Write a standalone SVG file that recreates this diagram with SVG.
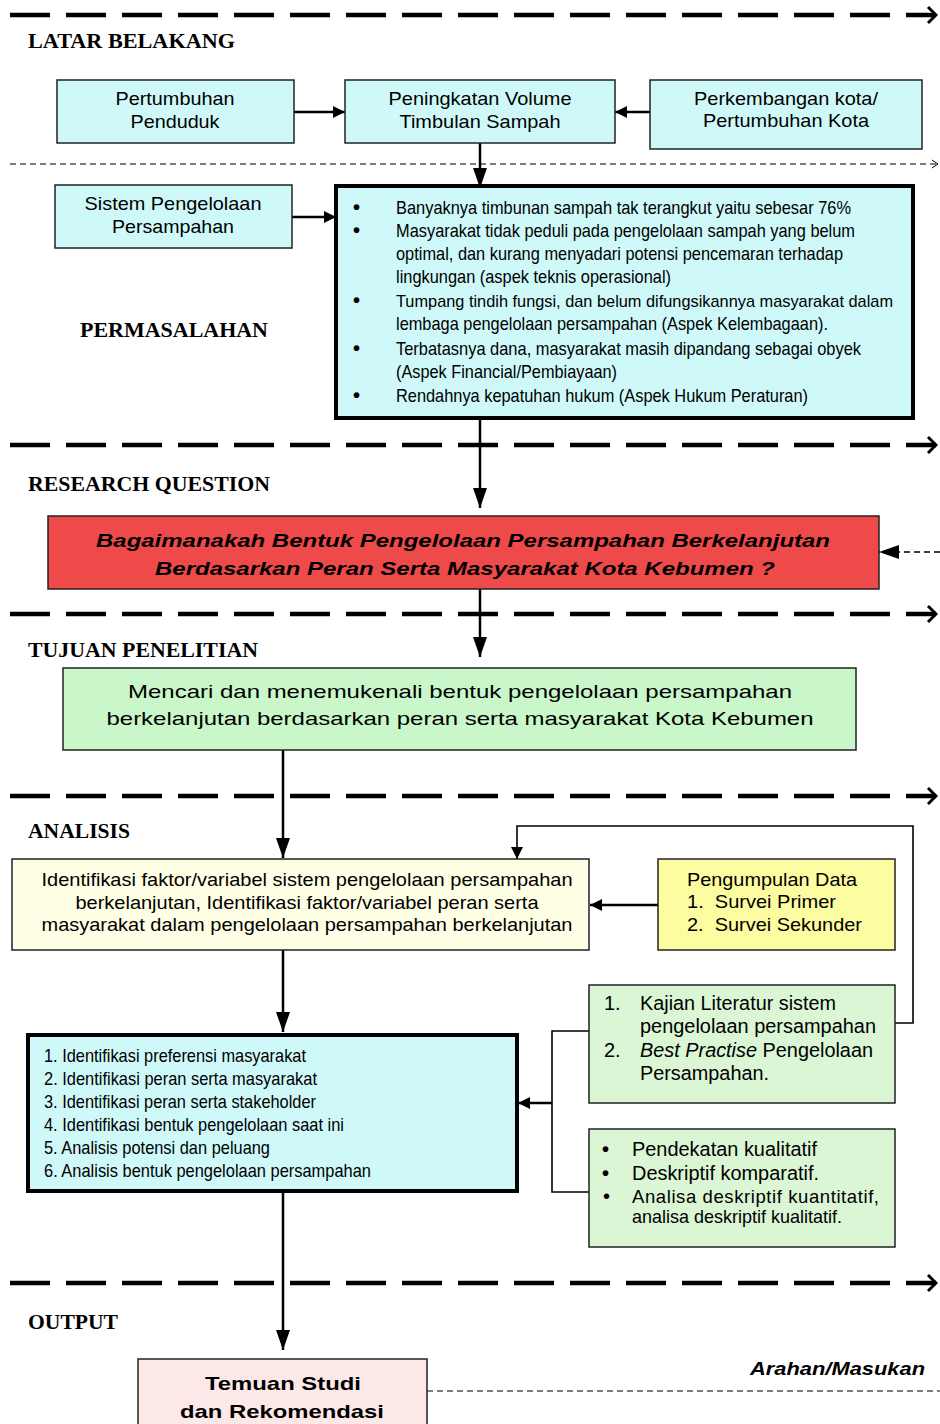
<svg xmlns="http://www.w3.org/2000/svg" width="940" height="1424" viewBox="0 0 940 1424">
<style>
.hd{font-family:"Liberation Serif","Times New Roman",serif;font-weight:bold;font-size:20px;fill:#000}
.t{font-family:"Liberation Sans",Arial,sans-serif;font-size:18.5px;fill:#000}
.n{font-family:"Liberation Sans",Arial,sans-serif;font-size:18.5px;fill:#000}
.b{font-family:"Liberation Sans",Arial,sans-serif;font-size:20px;fill:#000}
.bl{font-family:"Liberation Sans",Arial,sans-serif;font-size:20px;font-weight:bold;fill:#000}
.c{text-anchor:middle}
.box{stroke:#222;stroke-width:1.5}
.cy{fill:#cff9f9}
.thick{stroke:#000;stroke-width:4}
.sep{stroke:#000;stroke-width:4.5;stroke-dasharray:40 16;fill:none}
.thin{stroke:#000;stroke-width:1.2;stroke-dasharray:6 4;fill:none}
.ln{stroke:#000;stroke-width:2.5;fill:none}
.ln2{stroke:#000;stroke-width:1.6;fill:none}
</style>
<defs>
<marker id="big" viewBox="0 0 20 14" refX="20" refY="7" markerWidth="20" markerHeight="14" markerUnits="userSpaceOnUse" orient="auto"><path d="M0,0 L20,7 L0,14 z" fill="#000"/></marker>
<marker id="sm" viewBox="0 0 12 12" refX="12" refY="6" markerWidth="12" markerHeight="12" markerUnits="userSpaceOnUse" orient="auto"><path d="M0,0 L12,6 L0,12 z" fill="#000"/></marker>
<marker id="chev" viewBox="0 0 12 20" refX="10" refY="10" markerWidth="12" markerHeight="20" markerUnits="userSpaceOnUse" orient="auto"><path d="M2,2 L10,10 L2,18" fill="none" stroke="#000" stroke-width="3"/></marker>
<marker id="chevs" viewBox="0 0 8 10" refX="7" refY="5" markerWidth="8" markerHeight="10" markerUnits="userSpaceOnUse" orient="auto"><path d="M1,1 L7,5 L1,9" fill="none" stroke="#000" stroke-width="1"/></marker>
</defs>

<g id="separators">
<line class="sep" x1="10" y1="15" x2="936" y2="15" marker-end="url(#chev)"/>
<line class="thin" x1="10" y1="164" x2="938" y2="164" marker-end="url(#chevs)"/>
<line class="sep" x1="10" y1="445" x2="936" y2="445" marker-end="url(#chev)"/>
<line class="sep" x1="10" y1="614" x2="936" y2="614" marker-end="url(#chev)"/>
<line class="sep" x1="10" y1="796" x2="936" y2="796" marker-end="url(#chev)"/>
<line class="sep" x1="10" y1="1283" x2="936" y2="1283" marker-end="url(#chev)"/>
</g>

<g id="headings">
<text class="hd" x="28" y="48" textLength="207" lengthAdjust="spacingAndGlyphs">LATAR BELAKANG</text>
<text class="hd" x="80" y="337" textLength="188" lengthAdjust="spacingAndGlyphs">PERMASALAHAN</text>
<text class="hd" x="28" y="491" textLength="242" lengthAdjust="spacingAndGlyphs">RESEARCH QUESTION</text>
<text class="hd" x="28" y="657" textLength="230" lengthAdjust="spacingAndGlyphs">TUJUAN PENELITIAN</text>
<text class="hd" x="28" y="838" textLength="102" lengthAdjust="spacingAndGlyphs">ANALISIS</text>
<text class="hd" x="28" y="1329" textLength="90" lengthAdjust="spacingAndGlyphs">OUTPUT</text>
</g>

<g id="connectors">
<line class="ln" x1="294" y1="112" x2="345" y2="112" marker-end="url(#sm)"/>
<line class="ln" x1="650" y1="112" x2="615" y2="112" marker-end="url(#sm)"/>
<line class="ln" x1="480" y1="143" x2="480" y2="188" marker-end="url(#big)"/>
<line class="ln" x1="292" y1="217" x2="336" y2="217" marker-end="url(#sm)"/>
<line class="ln" x1="480" y1="418" x2="480" y2="508" marker-end="url(#big)"/>
<line class="ln2" x1="940" y1="552" x2="879" y2="552" stroke-dasharray="6 4" marker-end="url(#big)"/>
<line class="ln" x1="480" y1="589" x2="480" y2="657" marker-end="url(#big)"/>
<line class="ln" x1="283" y1="750" x2="283" y2="858" marker-end="url(#big)"/>
<polyline class="ln2" points="895,1023 913,1023 913,826 517,826 517,859" marker-end="url(#sm)"/>
<line class="ln" x1="658" y1="905" x2="590" y2="905" marker-end="url(#sm)"/>
<line class="ln" x1="283" y1="950" x2="283" y2="1032" marker-end="url(#big)"/>
<polyline class="ln2" points="589,1031 552,1031 552,1192 589,1192"/>
<line class="ln" x1="552" y1="1103" x2="518" y2="1103" marker-end="url(#sm)"/>
<line class="ln" x1="283" y1="1191" x2="283" y2="1350" marker-end="url(#big)"/>
<line class="thin" x1="427" y1="1391" x2="940" y2="1391"/>
</g>

<g id="n-pertumbuhan">
<rect class="box cy" x="57" y="80" width="237" height="63"/>
<text class="t c" x="175" y="105" textLength="119" lengthAdjust="spacingAndGlyphs">Pertumbuhan</text>
<text class="t c" x="175" y="128" textLength="89" lengthAdjust="spacingAndGlyphs">Penduduk</text>
</g>
<g id="n-peningkatan">
<rect class="box cy" x="345" y="80" width="270" height="63"/>
<text class="t c" x="480" y="105" textLength="183" lengthAdjust="spacingAndGlyphs">Peningkatan Volume</text>
<text class="t c" x="480" y="128" textLength="161" lengthAdjust="spacingAndGlyphs">Timbulan Sampah</text>
</g>
<g id="n-perkembangan">
<rect class="box cy" x="650" y="80" width="272" height="69"/>
<text class="t c" x="786" y="105" textLength="184" lengthAdjust="spacingAndGlyphs">Perkembangan kota/</text>
<text class="t c" x="786" y="127" textLength="166" lengthAdjust="spacingAndGlyphs">Pertumbuhan Kota</text>
</g>
<g id="n-sistem">
<rect class="box cy" x="55" y="185" width="237" height="63"/>
<text class="t c" x="173" y="210" textLength="177" lengthAdjust="spacingAndGlyphs">Sistem Pengelolaan</text>
<text class="t c" x="173" y="233" textLength="122" lengthAdjust="spacingAndGlyphs">Persampahan</text>
</g>

<g id="n-permasalahan">
<rect class="thick cy" x="336" y="186" width="577" height="232"/>
<g class="n">
<text class="bl" x="353" y="214">•</text>
<text class="bl" x="353" y="237">•</text>
<text class="bl" x="353" y="307">•</text>
<text class="bl" x="353" y="355">•</text>
<text class="bl" x="353" y="402">•</text>
<text x="396" y="214" textLength="455" lengthAdjust="spacingAndGlyphs">Banyaknya timbunan sampah tak terangkut yaitu sebesar 76%</text>
<text x="396" y="237" textLength="459" lengthAdjust="spacingAndGlyphs">Masyarakat tidak peduli pada pengelolaan sampah yang belum</text>
<text x="396" y="260" textLength="447" lengthAdjust="spacingAndGlyphs">optimal, dan kurang menyadari potensi pencemaran terhadap</text>
<text x="396" y="283" textLength="275" lengthAdjust="spacingAndGlyphs">lingkungan (aspek teknis operasional)</text>
<text x="396" y="307" font-size="17" textLength="497" lengthAdjust="spacingAndGlyphs">Tumpang tindih fungsi, dan belum difungsikannya masyarakat dalam</text>
<text x="396" y="330" textLength="432" lengthAdjust="spacingAndGlyphs">lembaga pengelolaan persampahan (Aspek Kelembagaan).</text>
<text x="396" y="355" textLength="465" lengthAdjust="spacingAndGlyphs">Terbatasnya dana, masyarakat masih dipandang sebagai obyek</text>
<text x="396" y="378" textLength="221" lengthAdjust="spacingAndGlyphs">(Aspek Financial/Pembiayaan)</text>
<text x="396" y="402" textLength="412" lengthAdjust="spacingAndGlyphs">Rendahnya kepatuhan hukum (Aspek Hukum Peraturan)</text>
</g>
</g>

<g id="n-research">
<rect class="box" x="48" y="516" width="831" height="73" fill="#ee4a4a"/>
<text class="t c" x="463" y="547" font-size="24" font-weight="bold" font-style="italic" fill="#1a1a1a" textLength="734" lengthAdjust="spacingAndGlyphs">Bagaimanakah Bentuk Pengelolaan Persampahan Berkelanjutan</text>
<text class="t c" x="465" y="575" font-size="24" font-weight="bold" font-style="italic" fill="#1a1a1a" textLength="620" lengthAdjust="spacingAndGlyphs">Berdasarkan Peran Serta Masyarakat Kota Kebumen ?</text>
</g>

<g id="n-tujuan">
<rect class="box" x="63" y="668" width="793" height="82" fill="#c9f7c9"/>
<text class="t c" x="460" y="698" font-size="23" textLength="664" lengthAdjust="spacingAndGlyphs">Mencari dan menemukenali bentuk pengelolaan persampahan</text>
<text class="t c" x="460" y="725" font-size="23" textLength="707" lengthAdjust="spacingAndGlyphs">berkelanjutan berdasarkan peran serta masyarakat Kota Kebumen</text>
</g>

<g id="n-identifikasi">
<rect class="box" x="12" y="859" width="577" height="91" fill="#ffffe6"/>
<text class="t c" x="307" y="886" textLength="531" lengthAdjust="spacingAndGlyphs">Identifikasi faktor/variabel sistem pengelolaan persampahan</text>
<text class="t c" x="307" y="909" textLength="463" lengthAdjust="spacingAndGlyphs">berkelanjutan, Identifikasi faktor/variabel peran serta</text>
<text class="t c" x="307" y="931" textLength="531" lengthAdjust="spacingAndGlyphs">masyarakat dalam pengelolaan persampahan berkelanjutan</text>
</g>

<g id="n-pengumpulan">
<rect class="box" x="658" y="859" width="237" height="91" fill="#fcfca0"/>
<text class="t" x="687" y="886" textLength="170" lengthAdjust="spacingAndGlyphs">Pengumpulan Data</text>
<text class="t" x="687" y="908" xml:space="preserve" textLength="149" lengthAdjust="spacingAndGlyphs">1.  Survei Primer</text>
<text class="t" x="687" y="931" xml:space="preserve" textLength="175" lengthAdjust="spacingAndGlyphs">2.  Survei Sekunder</text>
</g>

<g id="n-list">
<rect class="thick cy" x="28" y="1035" width="489" height="156"/>
<g class="n">
<text x="44" y="1062" textLength="262" lengthAdjust="spacingAndGlyphs">1. Identifikasi preferensi masyarakat</text>
<text x="44" y="1085" textLength="273" lengthAdjust="spacingAndGlyphs">2. Identifikasi peran serta masyarakat</text>
<text x="44" y="1108" textLength="272" lengthAdjust="spacingAndGlyphs">3. Identifikasi peran serta stakeholder</text>
<text x="44" y="1131" textLength="300" lengthAdjust="spacingAndGlyphs">4. Identifikasi bentuk pengelolaan saat ini</text>
<text x="44" y="1154" textLength="226" lengthAdjust="spacingAndGlyphs">5. Analisis potensi dan peluang</text>
<text x="44" y="1177" textLength="327" lengthAdjust="spacingAndGlyphs">6. Analisis bentuk pengelolaan persampahan</text>
</g>
</g>

<g id="n-kajian">
<rect class="box" x="589" y="985" width="306" height="118" fill="#daf6d4"/>
<text class="b" x="604" y="1010">1.</text>
<text class="b" x="640" y="1010" textLength="196" lengthAdjust="spacingAndGlyphs">Kajian Literatur sistem</text>
<text class="b" x="640" y="1033" textLength="236" lengthAdjust="spacingAndGlyphs">pengelolaan persampahan</text>
<text class="b" x="604" y="1057">2.</text>
<text class="b" x="640" y="1057" textLength="233" lengthAdjust="spacingAndGlyphs"><tspan font-style="italic">Best Practise</tspan> Pengelolaan</text>
<text class="b" x="640" y="1080" textLength="129" lengthAdjust="spacingAndGlyphs">Persampahan.</text>
</g>

<g id="n-pendekatan">
<rect class="box" x="589" y="1129" width="306" height="118" fill="#daf6d4"/>
<text class="bl" x="602" y="1156">•</text>
<text class="bl" x="602" y="1180">•</text>
<text class="b" x="603" y="1203" font-size="17">•</text>
<text class="b" x="632" y="1156" textLength="185" lengthAdjust="spacingAndGlyphs">Pendekatan kualitatif</text>
<text class="b" x="632" y="1180" textLength="187" lengthAdjust="spacingAndGlyphs">Deskriptif komparatif.</text>
<text class="t" x="632" y="1203" font-size="16.5" textLength="247" lengthAdjust="spacing">Analisa deskriptif kuantitatif,</text>
<text class="t" x="632" y="1223" font-size="16.5" textLength="210" lengthAdjust="spacingAndGlyphs">analisa deskriptif kualitatif.</text>
</g>

<g id="n-temuan">
<rect class="box" x="138" y="1359" width="289" height="80" fill="#fde8e8"/>
<text class="t c" x="283" y="1390" font-size="23" font-weight="bold" textLength="156" lengthAdjust="spacingAndGlyphs">Temuan Studi</text>
<text class="t c" x="282" y="1418" font-size="23" font-weight="bold" textLength="204" lengthAdjust="spacingAndGlyphs">dan Rekomendasi</text>
</g>

<g id="label-arahan">
<text class="t" x="925" y="1375" text-anchor="end" font-size="20" font-weight="bold" font-style="italic" textLength="175" lengthAdjust="spacingAndGlyphs">Arahan/Masukan</text>
</g>
</svg>
